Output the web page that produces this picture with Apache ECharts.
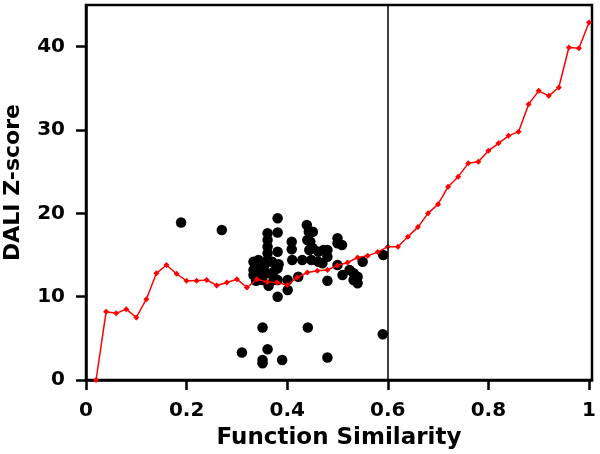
<!DOCTYPE html>
<html>
<head>
<meta charset="utf-8">
<script src="https://cdn.jsdelivr.net/npm/echarts@6/dist/echarts.min.js"></script>
<style>html,body{margin:0;padding:0;background:#fff}#c{width:600px;height:454px}</style>
</head>
<body>
<div id="c"></div>
<script>
// Red curve: function similarity vs DALI Z-score
const curveX = [0.02,0.04,0.06,0.08,0.10,0.12,0.14,0.16,0.18,0.20,0.22,0.24,0.26,0.28,0.30,0.32,0.34,0.36,0.38,0.40,0.42,0.44,0.46,0.48,0.50,0.52,0.54,0.56,0.58,0.60,0.62,0.64,0.66,0.68,0.70,0.72,0.74,0.76,0.78,0.80,0.82,0.84,0.86,0.88,0.90,0.92,0.94,0.96,0.98,1.00];
const curveY = [0,8.2,8.0,8.5,7.5,9.7,12.8,13.8,12.75,11.9,11.9,12.0,11.35,11.7,12.1,11.1,12.1,11.75,11.7,11.4,12.3,12.9,13.1,13.2,13.75,14.1,14.7,14.9,15.35,16.0,16.0,17.2,18.35,20.0,21.1,23.2,24.4,26.0,26.2,27.5,28.4,29.3,29.8,33.1,34.7,34.1,35.1,39.9,39.8,42.9];

// Scatter points (function similarity, Z-score)
const pointsX = [0.189,0.27,0.31,0.351,0.361,0.351,0.351,0.39,0.441,0.48,0.59,
  0.381,0.361,0.361,0.361,0.361,0.361,0.381,0.381,
  0.333,0.343,0.333,0.345,0.333,0.345,0.35,0.355,0.338,
  0.373,0.381,0.373,0.381,0.363,0.381,0.401,0.401,0.37,0.383,
  0.409,0.409,0.41,
  0.439,0.443,0.446,0.444,0.448,0.43,0.451,0.44,0.451,
  0.462,0.462,0.422,0.472,0.47,
  0.50,0.509,0.50,0.48,0.51,0.524,0.532,0.532,0.54,0.55,0.591,0.54,0.48,0.48,0.50,0.35,0.36];
const pointsY = [18.9,18.0,3.3,6.3,3.7,2.4,2.0,2.4,6.3,2.7,5.5,
  19.4,17.6,16.8,16.0,15.2,14.4,17.7,15.4,
  14.2,14.4,13.2,13.4,12.6,12.6,12.0,13.8,11.9,
  13.0,13.4,12.0,12.0,11.3,10.0,10.8,12.0,14.2,13.9,
  16.6,15.7,14.4,
  18.6,17.8,16.6,15.6,14.4,14.4,17.8,16.8,15.8,
  15.4,14.2,12.4,15.6,14.0,
  17.0,16.2,13.8,11.9,12.6,13.2,12.8,12.0,11.6,14.2,15.0,12.4,15.6,14.8,16.4,14.0,12.8];

const xTicks = [0,0.2,0.4,0.6,0.8,1];
const yTicks = [0,10,20,30,40];
const threshold = 0.6;

const curve = curveX.map((x,i)=>[x,curveY[i]]);
const pts = pointsX.map((x,i)=>[x,pointsY[i]]);

const font = 'DejaVu Sans';
const chart = echarts.init(document.getElementById('c'), null, {renderer:'canvas'});
chart.setOption({
  animation:false,
  grid:{left:86,right:8,top:5,bottom:74,containLabel:false,outerBoundsMode:'none',show:true,borderColor:'#000',borderWidth:2.5,backgroundColor:'transparent'},
  xAxis:{
    type:'value',min:0,max:1.006,
    name:'Function Similarity',nameLocation:'middle',nameGap:47,
    nameTextStyle:{fontFamily:font,fontWeight:'bold',fontSize:23,color:'#000'},
    axisLine:{show:true,lineStyle:{color:'#000',width:2.5}},
    axisTick:{show:true,length:10,inside:false,customValues:xTicks,lineStyle:{color:'#000',width:2.5}},
    axisLabel:{customValues:xTicks,fontFamily:font,fontWeight:'bold',fontSize:20,color:'#000',margin:21,
      formatter:v=>String(+v.toFixed(1))},
    splitLine:{show:false}
  },
  yAxis:{
    type:'value',min:0,max:45,
    name:'DALI Z-score',nameLocation:'middle',nameGap:62,
    nameTextStyle:{fontFamily:font,fontWeight:'bold',fontSize:22,color:'#000',padding:[0,0,0,20]},
    axisLine:{show:true,lineStyle:{color:'#000',width:2.5}},
    axisTick:{show:true,length:10,customValues:yTicks,lineStyle:{color:'#000',width:2.5}},
    axisLabel:{customValues:yTicks,fontFamily:font,fontWeight:'bold',fontSize:20,color:'#000',margin:21},
    splitLine:{show:false}
  },
  series:[
    {type:'scatter',data:pts,symbol:'circle',symbolSize:10.5,itemStyle:{color:'#000',opacity:1},z:2,
     markLine:{silent:true,symbol:'none',label:{show:false},lineStyle:{color:'#000',width:1.5,type:'solid'},data:[{xAxis:threshold}]}},
    {type:'line',data:curve,symbol:'diamond',symbolSize:6,showSymbol:true,
     lineStyle:{color:'#ff0000',width:1.5},itemStyle:{color:'#ff0000'},z:3,clip:true}
  ]
});
</script>
</body>
</html>
